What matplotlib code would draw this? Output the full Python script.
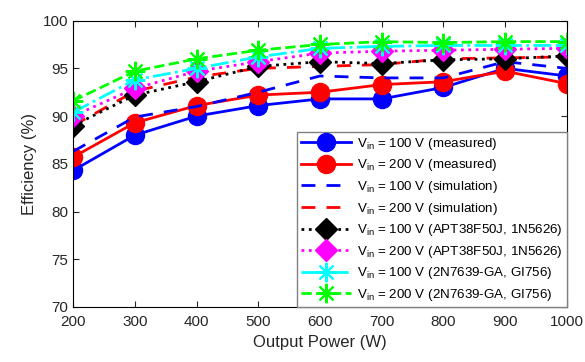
import matplotlib.pyplot as plt

plt.rcParams['font.family'] = ['Liberation Sans', 'DejaVu Sans']
plt.rcParams['mathtext.fontset'] = 'custom'
plt.rcParams['mathtext.rm'] = 'Liberation Sans'
plt.rcParams['mathtext.it'] = 'Liberation Sans'

power = [200, 300, 400, 500, 600, 700, 800, 900, 1000]

meas_100 = [84.3, 88.0, 90.0, 91.1, 91.8, 91.8, 93.0, 95.0, 94.2]
meas_200 = [85.7, 89.3, 91.1, 92.2, 92.5, 93.3, 93.6, 94.7, 93.4]
sim_100 = [86.3, 89.9, 91.0, 92.5, 94.2, 94.0, 94.0, 95.7, 95.0]
sim_200 = [89.0, 92.6, 94.1, 95.0, 95.2, 95.4, 96.0, 96.1, 96.2]
apt_100 = [89.0, 92.2, 93.6, 95.2, 95.7, 95.5, 95.9, 96.0, 96.3]
apt_200 = [90.0, 92.9, 94.7, 95.7, 96.6, 96.8, 96.9, 97.0, 97.1]
gan_100 = [90.4, 93.8, 95.0, 96.2, 97.1, 97.3, 97.4, 97.4, 97.4]
gan_200 = [91.6, 94.7, 96.0, 96.9, 97.5, 97.8, 97.7, 97.8, 97.8]

fig = plt.figure(figsize=(5.85, 3.62), dpi=100)
ax = fig.add_axes([0.125, 0.152, 0.844, 0.791])

vin = r'V$_{\rm in}$'
ax.plot(power, meas_100, '-o', color='#0000ff', lw=2, ms=13, label=vin + ' = 100 V (measured)')
ax.plot(power, meas_200, '-o', color='#ff0000', lw=2, ms=13, label=vin + ' = 200 V (measured)')
ax.plot(power, sim_100, '--', color='#0000ff', lw=2, dashes=(5, 4), label=vin + ' = 100 V (simulation)')
ax.plot(power, sim_200, '--', color='#ff0000', lw=2, dashes=(5, 4), label=vin + ' = 200 V (simulation)')
ax.plot(power, apt_100, ':D', color='black', lw=2, ms=11, label=vin + ' = 100 V (APT38F50J, 1N5626)')
ax.plot(power, apt_200, ':D', color='#ff00ff', lw=2, ms=11, label=vin + ' = 200 V (APT38F50J, 1N5626)')
ax.plot(power, gan_100, '-.', color='#00ffff', lw=2, ms=14, mew=1.5, marker=(8, 2, 0),
        label=vin + ' = 100 V (2N7639-GA, GI756)')
ax.plot(power, gan_200, '--', color='#00ff00', lw=2, ms=14, mew=1.5, marker=(8, 2, 0),
        label=vin + ' = 200 V (2N7639-GA, GI756)')

ax.set_xlim(200, 1000)
ax.set_ylim(70, 100)
ax.set_xticks(power)
ax.set_yticks([70, 75, 80, 85, 90, 95, 100])
ax.tick_params(direction='in', top=True, right=True, labelsize=11, length=4, colors='#262626')
ax.tick_params(axis='x', pad=6)
ax.set_xlabel('Output Power (W)', fontsize=12, color='#262626')
ax.set_ylabel('Efficiency (%)', fontsize=12, color='#262626')
for s in ax.spines.values():
    s.set_linewidth(0.8)

leg = ax.legend(loc='lower right', fontsize=9.6, borderaxespad=0, fancybox=False,
                framealpha=1, edgecolor='#808080', labelspacing=0.42, handlelength=3.7,
                handletextpad=0.5, borderpad=0.3)
leg.get_frame().set_linewidth(1)

fig.savefig('out.png', dpi=100)
